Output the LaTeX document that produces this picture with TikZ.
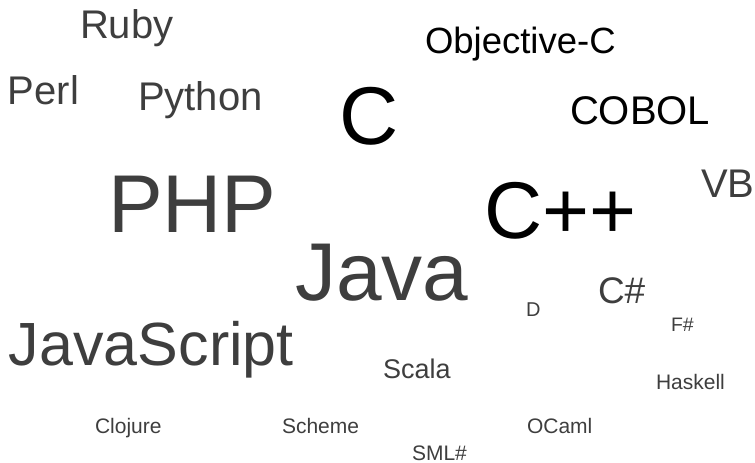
\documentclass[tikz,border=0pt]{standalone}
\usepackage{fontspec}
\setmainfont{Liberation Sans}
\definecolor{wordgray}{RGB}{62,62,62}
\definecolor{wordblack}{RGB}{0,0,0}
\tikzset{
  word/.style={anchor=base west, inner sep=0pt, outer sep=0pt, text=wordgray},
  dark/.style={text=wordblack},
}
\newcommand{\wsize}[1]{\fontsize{#1}{#1}\selectfont}
\begin{document}
\begin{tikzpicture}[x=1pt, y=-1pt]
  \useasboundingbox (0,0) rectangle (755,463);
  % large words
  \node[word] (php)  at (108,232) {\wsize{82}PHP};
  \node[word] (java) at (295,300) {\wsize{82}Java};
  \node[word, dark] (c)   at (339,144) {\wsize{82}C};
  \node[word, dark] (cpp) at (484,238) {\wsize{80.5}C++};
  \node[word] (js)   at (9,365)   {\wsize{61}JavaScript};
  % medium words
  \node[word] (ruby)   at (80,38)  {\wsize{40}Ruby};
  \node[word] (perl)   at (8,104)  {\wsize{40}Perl};
  \node[word] (python) at (138,110) {\wsize{40}Python};
  \node[word, dark] (objc)  at (425,53)  {\wsize{36.5}Objective-C};
  \node[word, dark] (cobol) at (570,124) {\wsize{40}COBOL};
  \node[word] (vb)     at (701,197) {\wsize{40}VB};
  \node[word] (csharp) at (598,303) {\wsize{37}C\#};
  \node[word] (scala)  at (383,378) {\wsize{27}Scala};
  % small words
  \node[word] (d)       at (526,316) {\wsize{20}D};
  \node[word] (fsharp)  at (671,331) {\wsize{19.5}F\#};
  \node[word] (haskell) at (656,389) {\wsize{21}Haskell};
  \node[word] (clojure) at (95,433)  {\wsize{21}Clojure};
  \node[word] (scheme)  at (282,433) {\wsize{21}Scheme};
  \node[word] (ocaml)   at (527,433) {\wsize{21}OCaml};
  \node[word] (sml)     at (412,460) {\wsize{21}SML\#};
\end{tikzpicture}
\end{document}
